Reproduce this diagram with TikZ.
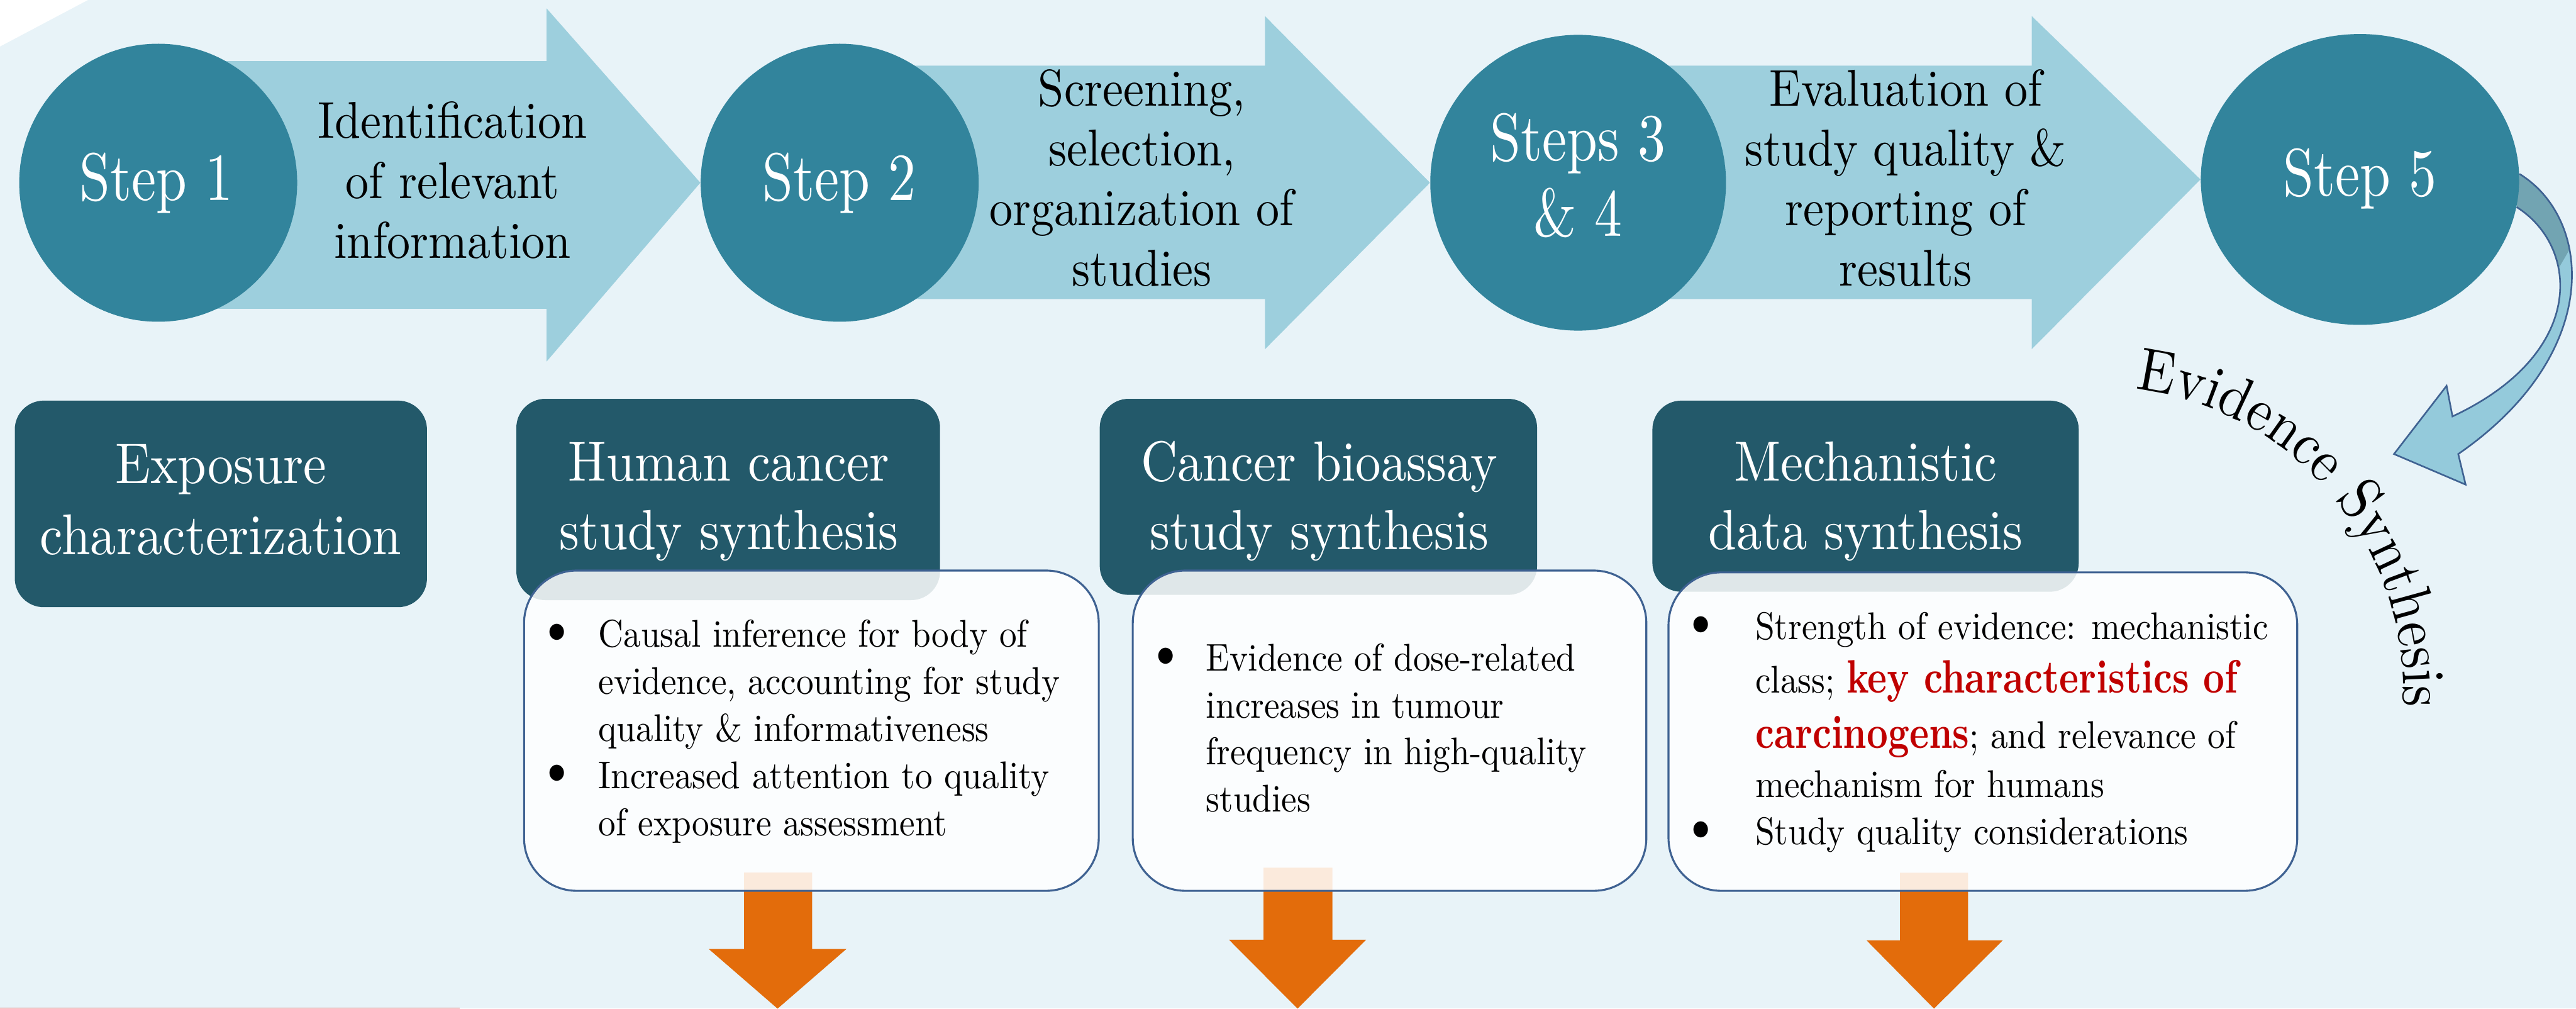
\documentclass[tikz,border=0pt]{standalone}
\usepackage{graphicx}
\usepackage{fontspec}
\setmainfont{lmroman10-regular.otf}[BoldFont=lmroman10-bold.otf,FakeStretch=0.9]
\newfontfamily\stepfont{lmroman10-regular.otf}[FakeStretch=0.82]
\newfontfamily\keyfont{lmroman10-bold.otf}[FakeStretch=0.79]
\usetikzlibrary{calc,shapes.geometric,decorations.text}

\definecolor{pagebg}{RGB}{232,243,248}
\definecolor{lightarrow}{RGB}{157,207,221}
\definecolor{stepblue}{RGB}{50,132,156}
\definecolor{darkteal}{RGB}{35,89,106}
\definecolor{boxline}{RGB}{63,98,146}
\definecolor{orangearrow}{RGB}{227,108,11}
\definecolor{keyred}{RGB}{192,0,0}
\definecolor{curvefill}{RGB}{148,202,219}
\definecolor{curvedark}{RGB}{114,164,178}
\definecolor{edgered}{RGB}{214,36,40}

\pgfdeclarelayer{bg}
\pgfdeclarelayer{back}
\pgfsetlayers{bg,back,main}

% centred / left-aligned stacks whose baseline is the first line
\newcommand{\mlines}[1]{\begin{tabular}[t]{@{}c@{}}#1\end{tabular}}
\newcommand{\llines}[1]{\begin{tabular}[t]{@{}l@{}}#1\end{tabular}}
% bullet hanging to the left of the item text
\newcommand{\bul}[1]{\makebox[0pt][r]{\makebox[0pt]{\raisebox{1.2pt}{\scalebox{1.45}{\textbullet}}}\hspace{#1}}}
\newcommand{\keytxt}[1]{{\keyfont\fontsize{28.5}{28.8}\selectfont\color{keyred}#1}}
\newcommand{\evfont}{\fontsize{37}{40}\selectfont}

\begin{document}
\begin{tikzpicture}[x=1pt, y=-1pt,
  stepcirc/.style={circle, fill=stepblue, inner sep=0pt, draw=none},
  steplabel/.style={text=white, inner sep=0pt, anchor=base, font=\stepfont\fontsize{41}{45.7}\selectfont},
  flowtxt/.style={inner sep=0pt, anchor=base, font=\fontsize{31.5}{36.4}\selectfont},
  hdrbox/.style={rectangle, rounded corners=17.6pt, fill=darkteal, inner sep=0pt},
  hdrtxt/.style={text=white, inner sep=0pt, anchor=base, font=\fontsize{34.4}{41.7}\selectfont},
  notebox/.style={rectangle, rounded corners=32pt, fill=white, fill opacity=0.86, draw=boxline, line width=1.2pt, inner sep=0pt},
  notetxt/.style={inner sep=0pt, anchor=base west},
  blockarrow/.style={fill=lightarrow},
  downarrow/.style={fill=orangearrow},
]
\useasboundingbox (0,0) rectangle (1568,613.8);

\begin{pgfonlayer}{bg}
  \fill[pagebg] (0,0) rectangle (1568,613.8);
  \fill[white] (0,0) -- (53.5,0) -- (0,28.3) -- cycle;
  \draw[edgered, line width=0.5pt] (0,613.4) -- (279.8,613.4);
\end{pgfonlayer}

% process steps
\node[stepcirc, minimum size=169.2pt] (s1) at (96.3,111.2) {};
\node[stepcirc, minimum size=169.2pt] (s2) at (511.1,111.2) {};
\node[stepcirc, minimum size=180pt] (s34) at (960.6,111.2) {};
\node[stepcirc, ellipse, minimum width=193.8pt, minimum height=177pt] (s5) at (1436.5,109.2) {};

\node[steplabel] (l1) at (95.3,122) {Step 1};
\node[steplabel] (l2) at (510.8,122) {Step 2};
\node[steplabel] (l34) at (960.5,97.9) {\mlines{Steps 3\\\& 4}};
\node[steplabel] (l5) at (1436.5,119.4) {Step 5};

% block arrows between the steps, and the curved arrow out of step 5
\begin{pgfonlayer}{back}
  \fill[blockarrow] (96.3,37.2) -- (332.7,37.2) -- (332.7,5.1) -- (s2.west)
    -- (332.7,220) -- (332.7,187.9) -- (96.3,187.9) -- cycle;
  \fill[blockarrow] (511.1,40) -- (770,40) -- (770,9.8) -- (s34.west)
    -- (770,212.5) -- (770,182) -- (511.1,182) -- cycle;
  \fill[blockarrow] (960.6,40) -- (1236.7,40) -- (1236.7,9.8) -- (s5.west)
    -- (1236.7,212.5) -- (1236.7,182) -- (960.6,182) -- cycle;

  \fill[curvefill] (s5.2) .. controls (1578,133) and (1585,215) .. (1496.3,276.3)
    -- (1500.8,294.9) -- (1457.2,276.3) -- (1489.2,234.8) -- (1492.8,253.4)
    .. controls (1575,215) and (1570,150) .. (s5.-10) -- cycle;
  \fill[curvedark] (s5.2) .. controls (1548.9,115.3) and (1560,131.5) .. (1564.2,151.6)
    -- (1557.3,163.4) .. controls (1554.4,147.8) and (1545,134.4) .. (s5.-10) -- cycle;
  \draw[boxline, line width=1pt, line join=miter] (s5.2) .. controls (1578,133) and (1585,215) .. (1496.3,276.3)
    -- (1500.8,294.9) -- (1457.2,276.3) -- (1489.2,234.8) -- (1492.8,253.4)
    .. controls (1575,215) and (1570,150) .. (s5.-10);
\end{pgfonlayer}

\node[flowtxt] (f1) at (275.5,84.2) {\mlines{Identification\\of relevant\\information}};
\node[flowtxt] (f2) at (695,64.6) {\mlines{Screening,\\selection,\\organization of\\studies}};
\node[flowtxt] (f3) at (1160,64.6) {\mlines{Evaluation of\\study quality \&\\reporting of\\results}};

% synthesis headers
\node[hdrbox, minimum width=250.9pt, minimum height=125.7pt] (h0) at (134.45,306.65) {};
\node[hdrbox, minimum width=257.9pt, minimum height=122.5pt] (h1) at (443.25,303.95) {};
\node[hdrbox, minimum width=266.2pt, minimum height=119.3pt] (h2) at (802.5,302.35) {};
\node[hdrbox, minimum width=259.5pt, minimum height=116.3pt] (h3) at (1135.55,301.95) {};

% downward arrows, partly behind the note boxes
\fill[downarrow] (452.9,531) -- (494.3,531) -- (494.3,577.5) -- (515.2,577.5)
  -- (473.3,613.8) -- (431.4,577.5) -- (452.9,577.5) -- cycle;
\fill[downarrow] (769.1,528) -- (811,528) -- (811,571.9) -- (831.5,571.9)
  -- (789.8,613.8) -- (748.1,571.9) -- (769.1,571.9) -- cycle;
\fill[downarrow] (1156.5,531.1) -- (1197.9,531.1) -- (1197.9,572.2) -- (1219.1,572.2)
  -- (1177.2,613.8) -- (1136.1,572.2) -- (1156.5,572.2) -- cycle;

% note boxes
\node[notebox, minimum width=349.8pt, minimum height=194.9pt] (w1) at (493.9,444.65) {};
\node[notebox, minimum width=312.6pt, minimum height=194.9pt] (w2) at (845.8,444.65) {};
\node[notebox, minimum width=382.7pt, minimum height=193.8pt] (w3) at (1206.95,445.2) {};

\node[hdrtxt, font=\fontsize{35}{43.1}\selectfont] (h0t) at (134.4,294.3) {\mlines{Exposure\\characterization}};
\node[hdrtxt] (h1t) at (443.7,292.5) {\mlines{Human cancer\\study synthesis}};
\node[hdrtxt] (h2t) at (803,292.5) {\mlines{Cancer bioassay\\study synthesis}};
\node[hdrtxt] (h3t) at (1135.5,292.5) {\mlines{Mechanistic\\data synthesis}};

\node[notetxt, font=\fontsize{23.5}{28.7}\selectfont] (n1) at (364.1,393.6)
  {\llines{\bul{25.4pt}Causal inference for body of\\evidence, accounting for study\\quality \& informativeness\\\bul{25.4pt}Increased attention to quality\\of exposure assessment}};
\node[notetxt, font=\fontsize{23.5}{28.6}\selectfont] (n2) at (734,408.2)
  {\llines{\bul{24.7pt}Evidence of dose-related\\increases in tumour\\frequency in high-quality\\studies}};
\node[notetxt, font=\fontsize{23.5}{28.8}\selectfont] (n3) at (1068.3,389.2)
  {\llines{\bul{33.1pt}Strength of evidence: mechanistic\\[3.5pt]class; \keytxt{key characteristics of}\\[5.1pt]\keytxt{carcinogens}; and relevance of\\[0.9pt]mechanism for humans\\\bul{33.1pt}Study quality considerations}};

% curved caption
\path[decorate, decoration={text along path, text={|\evfont|Evidence Synthesis}, text align=left}]
  (1278,420.5) ++(-83.2:185) arc[start angle=-83.2, end angle=25, radius=185];
\end{tikzpicture}
\end{document}
